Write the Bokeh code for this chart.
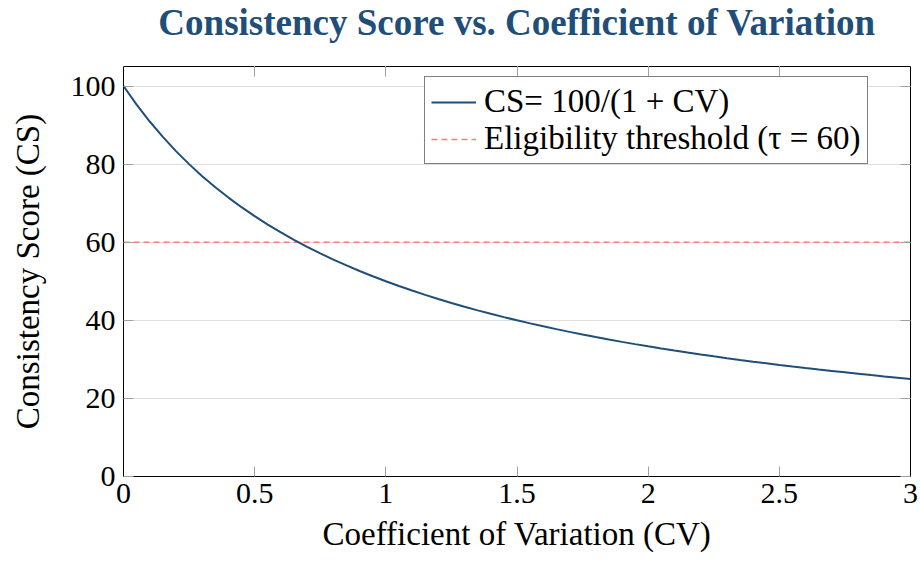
from bokeh.plotting import figure
from bokeh.models import LinearAxis, Legend, LegendItem, Range1d, FixedTicker
from bokeh.embed import file_html
from bokeh.resources import INLINE

# Values
cv_values = [0.00, 0.05, 0.10, 0.15, 0.20, 0.25, 0.30, 0.35, 0.40, 0.45,
             0.50, 0.55, 0.60, 0.65, 0.70, 0.75, 0.80, 0.85, 0.90, 0.95,
             1.00, 1.05, 1.10, 1.15, 1.20, 1.25, 1.30, 1.35, 1.40, 1.45,
             1.50, 1.55, 1.60, 1.65, 1.70, 1.75, 1.80, 1.85, 1.90, 1.95,
             2.00, 2.05, 2.10, 2.15, 2.20, 2.25, 2.30, 2.35, 2.40, 2.45,
             2.50, 2.55, 2.60, 2.65, 2.70, 2.75, 2.80, 2.85, 2.90, 2.95, 3.00]
cs_values = [100.00, 95.24, 90.91, 86.96, 83.33, 80.00, 76.92, 74.07, 71.43, 68.97,
             66.67, 64.52, 62.50, 60.61, 58.82, 57.14, 55.56, 54.05, 52.63, 51.28,
             50.00, 48.78, 47.62, 46.51, 45.45, 44.44, 43.48, 42.55, 41.67, 40.82,
             40.00, 39.22, 38.46, 37.74, 37.04, 36.36, 35.71, 35.09, 34.48, 33.90,
             33.33, 32.79, 32.26, 31.75, 31.25, 30.77, 30.30, 29.85, 29.41, 28.99,
             28.57, 28.17, 27.78, 27.40, 27.03, 26.67, 26.32, 25.97, 25.64, 25.32, 25.00]
threshold_x = [0.0, 3.0]
threshold_y = [60, 60]
x_ticks = [0, 0.5, 1, 1.5, 2, 2.5, 3]
x_tick_labels = ["0", "0.5", "1", "1.5", "2", "2.5", "3"]
y_ticks = [0, 20, 40, 60, 80, 100]

FONT = "Liberation Serif"
BLUE = "#1f4e79"
RED = "#ff7b7b"

p = figure(width=920, height=563, output_backend="svg", toolbar_location=None,
           x_range=Range1d(0, 3), y_range=Range1d(0, 105),
           title="Consistency Score vs. Coefficient of Variation",
           min_border_left=123, min_border_right=10, min_border_top=66, min_border_bottom=87)

p.title.text_font = FONT
p.title.text_font_size = "37px"
p.title.text_font_style = "bold"
p.title.text_color = BLUE
p.title.align = "center"
p.title.vertical_align = "top"
p.title.standoff = 0

p.outline_line_color = "black"
p.outline_line_width = 1

p.xgrid.visible = False
p.ygrid.ticker = FixedTicker(ticks=y_ticks)
p.ygrid.grid_line_color = "#dedede"
p.ygrid.grid_line_width = 1

xa = p.xaxis[0]
ya = p.yaxis[0]
xa.ticker = FixedTicker(ticks=x_ticks)
xa.major_label_overrides = {t: l for t, l in zip(x_ticks, x_tick_labels)}
ya.ticker = FixedTicker(ticks=y_ticks)
xa.axis_label = "Coefficient of Variation (CV)"
ya.axis_label = "Consistency Score (CS)"

for ax in (xa, ya):
    ax.axis_label_text_font = FONT
    ax.axis_label_text_font_size = "33px"
    ax.axis_label_text_font_style = "normal"
    ax.axis_label_text_color = "black"
    ax.major_label_text_font = FONT
    ax.major_label_text_font_size = "30px"
    ax.major_label_text_color = "black"
    ax.axis_line_color = "black"
    ax.major_tick_line_color = "#a0a0a0"
    ax.major_tick_in = 10
    ax.major_tick_out = 0
    ax.minor_tick_line_color = None
xa.major_label_standoff = 7
ya.major_label_standoff = 8
xa.axis_label_standoff = 10
ya.axis_label_standoff = 22

# top and right axes: ticks only, no labels
top_axis = LinearAxis(ticker=FixedTicker(ticks=x_ticks),
                      major_label_overrides={t: "" for t in x_ticks})
right_axis = LinearAxis(ticker=FixedTicker(ticks=y_ticks),
                        major_label_overrides={t: "" for t in y_ticks})
for ax in (top_axis, right_axis):
    ax.major_label_standoff = 0
    ax.axis_line_color = "black"
    ax.major_tick_line_color = "#a0a0a0"
    ax.major_tick_in = 10
    ax.major_tick_out = 0
    ax.minor_tick_line_color = None
p.add_layout(top_axis, "above")
p.add_layout(right_axis, "right")

# spacer between the frame and the title (white, invisible ticks)
spacer_axis = LinearAxis(ticker=FixedTicker(ticks=x_ticks),
                         major_label_overrides={t: "" for t in x_ticks})
spacer_axis.axis_line_color = None
spacer_axis.major_tick_line_color = "#ffffff"
spacer_axis.major_tick_in = 0
spacer_axis.major_tick_out = 22
spacer_axis.major_label_standoff = 0
spacer_axis.minor_tick_line_color = None
p.add_layout(spacer_axis, "above")

r_thr = p.line(threshold_x, threshold_y, line_color=RED, line_width=1.5, line_dash="6 4")
r_cs = p.line(cv_values, cs_values, line_color=BLUE, line_width=2)

legend = Legend(items=[LegendItem(label="CS= 100/(1 + CV)", renderers=[r_cs]),
                       LegendItem(label="Eligibility threshold (\u03c4 = 60)", renderers=[r_thr])],
                location=(301, 312))
legend.label_text_font = FONT
legend.label_text_font_size = "33px"
legend.label_text_color = "black"
legend.border_line_color = "black"
legend.border_line_width = 1
legend.background_fill_alpha = 1
legend.glyph_width = 45
legend.glyph_height = 34
legend.label_height = 34
legend.label_standoff = 8
legend.padding = 6
legend.spacing = 0
legend.margin = 0
p.add_layout(legend, "center")

open("out.html", "w").write(file_html(p, INLINE))
